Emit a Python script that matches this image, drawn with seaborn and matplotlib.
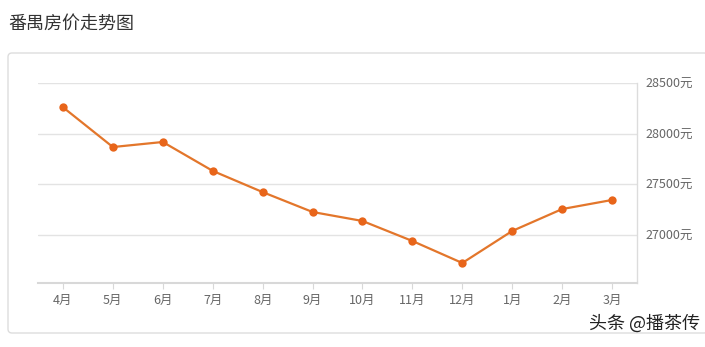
import matplotlib
matplotlib.use("Agg")
import matplotlib.pyplot as plt
import seaborn as sns
import pandas as pd
from matplotlib.patches import FancyBboxPatch

months = ["4月", "5月", "6月", "7月", "8月", "9月", "10月", "11月", "12月", "1月", "2月", "3月"]
prices = [28260, 27866, 27916, 27630, 27420, 27223, 27134, 26936, 26718, 27035, 27252, 27342]
yticks = [27000, 27500, 28000, 28500]
ytick_labels = ["27000元", "27500元", "28000元", "28500元"]

sns.set_theme(style="white")
plt.rcParams['font.family'] = ['Noto Sans CJK SC', 'DejaVu Sans']

df = pd.DataFrame({"idx": range(len(months)), "price": prices})

fig = plt.figure(figsize=(7.05, 3.47), dpi=100)

# background axes holding the card border
bg = fig.add_axes([0, 0, 1, 1], zorder=0)
bg.set_xlim(0, 705)
bg.set_ylim(347, 0)
bg.axis("off")
card = FancyBboxPatch((8, 53), 700, 280,
                      boxstyle="round,pad=0,rounding_size=4",
                      facecolor="white", edgecolor="#dddddd", linewidth=1.0)
bg.add_patch(card)
bg.text(8, 24, "番禺房价走势图", fontsize=13, color="#333333", va="center", ha="left")
bg.text(700, 324, "头条 @播茶传", fontsize=13, color="#222222", va="center", ha="right")

ax = fig.add_axes([38/705, 1 - 283/347, (637 - 38)/705, (283 - 83)/347], zorder=1)
ax.patch.set_alpha(0)
sns.lineplot(data=df, x="idx", y="price", ax=ax, color="#E3762B", linewidth=1.6,
             marker="o", markersize=6, markeredgewidth=0, markerfacecolor="#E8651A")

ax.set_xlim(-0.5, 11.5)
ax.set_ylim(26520, 28500)
ax.set_xticks(range(len(months)))
ax.set_xticklabels(months, fontsize=9, color="#666666")
ax.yaxis.tick_right()
ax.set_yticks(yticks)
ax.set_yticklabels(ytick_labels, fontsize=9, color="#666666")
ax.set_xlabel("")
ax.set_ylabel("")

for y in yticks:
    ax.axhline(y, color="#e3e3e3", linewidth=1.0, zorder=0)

for s in ["top", "left"]:
    ax.spines[s].set_visible(False)
ax.spines["bottom"].set_color("#d8d8d8")
ax.spines["bottom"].set_linewidth(1.5)
ax.spines["right"].set_color("#dcdcdc")
ax.spines["right"].set_linewidth(1.0)

ax.tick_params(axis="x", length=4, width=0.8, color="#d8d8d8", pad=4, bottom=True)
ax.tick_params(axis="y", length=0, pad=6, right=True, left=False)

fig.savefig("out.png", dpi=100)
